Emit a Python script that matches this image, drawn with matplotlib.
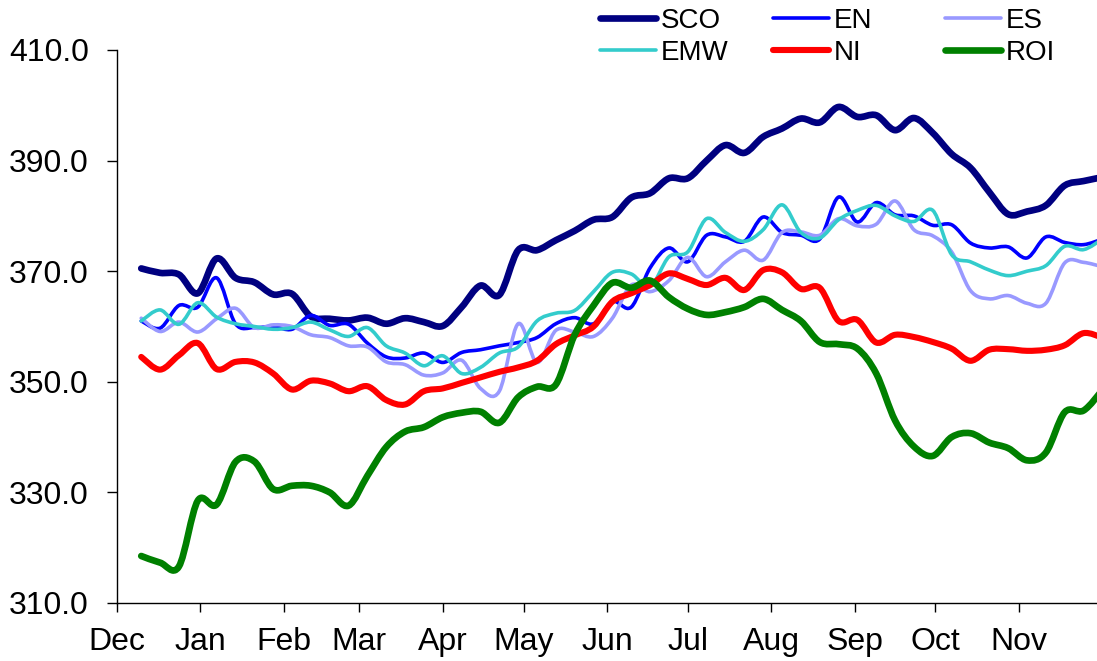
import matplotlib
matplotlib.use('Agg')
import matplotlib.pyplot as plt
import matplotlib.dates as mdates
from matplotlib.ticker import FormatStrFormatter
from matplotlib.path import Path
from matplotlib.patches import PathPatch
from matplotlib.lines import Line2D
import numpy as np
import pandas as pd

plt.rcParams['font.family'] = ['Liberation Sans', 'DejaVu Sans']

# weekly readings, Dec to Nov
weeks = pd.date_range('2006-12-10', periods=52, freq='7D')

sco = [370.5, 369.7, 369.4, 366.0, 372.3, 368.8, 368.0, 365.8, 365.9, 361.8,
       361.4, 361.1, 361.6, 360.5, 361.5, 360.8, 360.1, 363.5, 367.4, 365.7,
       373.8, 373.8, 375.6, 377.3, 379.3, 379.8, 383.3, 384.1, 386.8, 386.8,
       390.0, 392.8, 391.4, 394.3, 395.8, 397.6, 396.9, 399.7, 397.9, 398.2,
       395.5, 397.7, 395.0, 391.2, 388.7, 384.3, 380.3, 380.8, 381.9, 385.5,
       386.3, 387.0]
en = [361.0, 359.7, 363.8, 363.5, 368.8, 360.5, 359.8, 360.0, 359.5, 362.0,
      360.2, 360.4, 357.0, 354.5, 354.3, 355.2, 353.5, 355.3, 355.8, 356.5,
      357.1, 358.0, 360.5, 361.6, 360.5, 364.5, 363.5, 370.6, 374.2, 371.7,
      376.5, 376.2, 375.4, 379.8, 377.0, 376.5, 375.8, 383.4, 378.9, 382.4,
      380.2, 380.0, 378.3, 378.4, 375.1, 374.2, 374.4, 372.4, 376.2, 375.2,
      374.8, 375.8]
es = [361.5, 359.1, 360.8, 359.0, 361.4, 363.3, 359.8, 360.3, 360.0, 358.5,
      358.0, 356.5, 356.3, 353.6, 353.1, 351.2, 351.6, 353.9, 348.8, 348.3,
      360.5, 353.5, 359.3, 359.0, 358.2, 361.5, 367.5, 366.3, 368.3, 372.5,
      369.0, 371.7, 373.8, 372.0, 377.0, 377.1, 376.5, 379.5, 378.2, 378.5,
      382.7, 377.5, 376.4, 373.5, 366.5, 365.0, 365.6, 364.2, 364.2, 371.5,
      371.6, 370.8]
emw = [361.0, 363.0, 360.4, 364.3, 361.7, 360.5, 360.0, 359.5, 359.8, 360.8,
       359.4, 358.2, 359.8, 356.5, 355.2, 352.9, 354.7, 351.5, 352.6, 355.2,
       356.3, 361.0, 362.4, 362.9, 366.3, 369.8, 369.5, 367.2, 372.6, 373.5,
       379.5, 377.0, 375.4, 377.5, 382.0, 377.0, 376.0, 379.3, 381.0, 381.9,
       380.0, 379.0, 381.0, 373.0, 371.7, 370.2, 369.2, 370.0, 371.0, 374.5,
       373.9, 375.8]
ni = [354.5, 352.2, 354.8, 357.0, 352.3, 353.6, 353.5, 351.5, 348.6, 350.2,
      349.7, 348.3, 349.2, 346.7, 345.9, 348.3, 348.8, 349.8, 350.8, 351.8,
      352.6, 353.8, 356.8, 358.4, 360.0, 364.5, 366.0, 367.5, 369.6, 368.6,
      367.5, 368.8, 366.6, 370.2, 369.8, 366.8, 367.0, 361.0, 361.2, 357.1,
      358.5, 358.1, 357.2, 356.0, 353.8, 355.8, 355.9, 355.6, 355.8, 356.6,
      358.8, 358.0]
roi = [318.5, 317.3, 316.6, 328.5, 327.8, 335.5, 335.6, 330.6, 331.2, 331.2,
       330.0, 327.6, 333.0, 338.2, 341.0, 341.8, 343.6, 344.4, 344.6, 342.6,
       347.2, 349.1, 349.5, 358.5, 363.8, 367.9, 367.0, 368.3, 365.3, 363.2,
       362.1, 362.6, 363.5, 365.0, 363.0, 361.0, 357.2, 356.8, 356.0, 351.5,
       343.0, 338.3, 336.6, 340.0, 340.7, 339.0, 338.0, 335.8, 337.2, 344.5,
       344.8, 348.5]

series = [
    ('SCO', sco, '#000080', 4.8),
    ('EN', en, '#0000FF', 2.6),
    ('ES', es, '#9999FF', 2.6),
    ('EMW', emw, '#33CCCC', 2.6),
    ('NI', ni, '#FF0000', 4.4),
    ('ROI', roi, '#008000', 4.8),
]


def smooth_path(x, y):
    """Excel-style smoothed line: cubic Bezier through every data point."""
    x = np.asarray(x, dtype=float)
    y = np.asarray(y, dtype=float)
    pts = np.column_stack([x, y])
    ext = np.vstack([pts[0], pts, pts[-1]])
    verts = [pts[0]]
    codes = [Path.MOVETO]
    for i in range(len(pts) - 1):
        p0, p1, p2, p3 = ext[i], ext[i + 1], ext[i + 2], ext[i + 3]
        verts += [p1 + (p2 - p0) / 6.0, p2 - (p3 - p1) / 6.0, p2]
        codes += [Path.CURVE4] * 3
    return Path(verts, codes)


fig = plt.figure(figsize=(10.97, 6.61), dpi=100)
ax = fig.add_axes([117 / 1097, 58 / 661, 980 / 1097, 553 / 661])

xnum = mdates.date2num(weeks)
handles = {}
for name, vals, color, lw in series:
    patch = PathPatch(smooth_path(xnum, vals), facecolor='none', edgecolor=color,
                      lw=lw, joinstyle='round', capstyle='round')
    ax.add_patch(patch)
    handles[name] = Line2D([], [], color=color, lw=lw, solid_capstyle='round')

ax.set_xlim(pd.Timestamp('2006-12-01'), pd.Timestamp('2007-11-30'))
ax.set_ylim(310, 410)
ax.set_yticks(range(310, 411, 20))
ax.yaxis.set_major_formatter(FormatStrFormatter('%.1f'))
ax.xaxis.set_major_locator(mdates.MonthLocator())
ax.xaxis.set_major_formatter(mdates.DateFormatter('%b'))

for side in ['top', 'right']:
    ax.spines[side].set_visible(False)
for side in ['left', 'bottom']:
    ax.spines[side].set_linewidth(1.0)
    ax.spines[side].set_color('black')

ax.tick_params(axis='y', length=7.2, width=1.0, pad=13, labelsize=23)
ax.tick_params(axis='x', length=6.5, width=1.0, pad=11, labelsize=23)

# legend laid out as three fixed columns
legend_cols = [(['SCO', 'EMW'], 600), (['EN', 'NI'], 773), (['ES', 'ROI'], 945)]
for names, xpix in legend_cols:
    fig.legend(handles=[handles[n] for n in names], labels=names,
               loc='upper left', bbox_to_anchor=(xpix / 1097, 1 - 8 / 661),
               bbox_transform=fig.transFigure, frameon=False, fontsize=20,
               handlelength=2.0, handletextpad=0.2, labelspacing=0.2,
               borderpad=0, borderaxespad=0)

fig.savefig('out.png', dpi=100)
